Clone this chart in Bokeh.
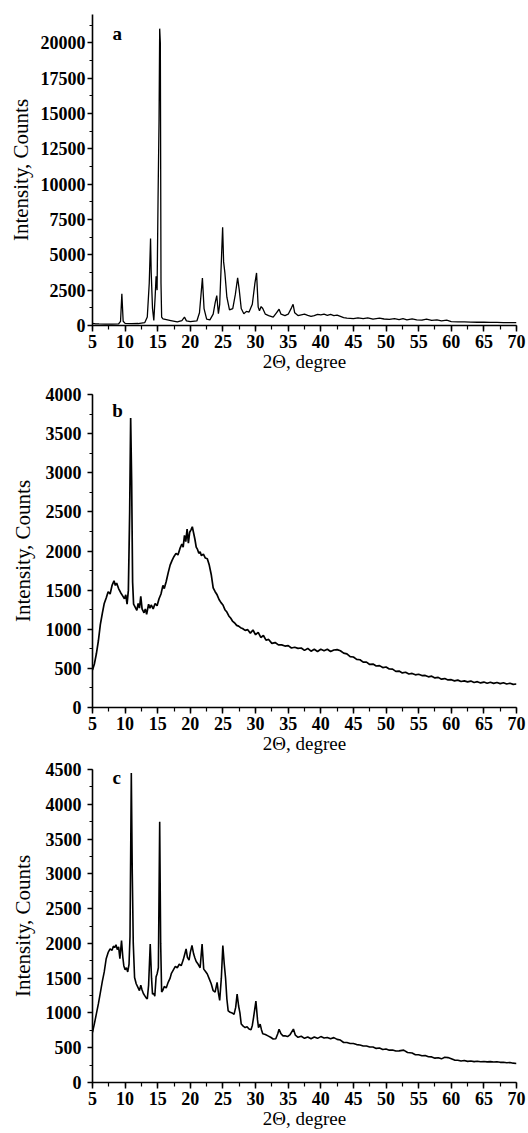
from bokeh.plotting import figure
from bokeh.layouts import column
from bokeh.models import Range1d, Label, SingleIntervalTicker
from bokeh.embed import file_html
from bokeh.resources import INLINE

# ---------------- data ----------------
x_a = [5.0, 5.5, 6.0, 7.0, 8.0, 9.0, 9.3, 9.5, 9.7, 10.0, 11.0, 12.0, 13.0, 13.4, 13.7, 13.9, 14.0,
       14.2, 14.4, 14.6, 14.75, 14.9, 15.05, 15.2, 15.3, 15.4, 15.5, 15.6, 15.8, 16.5, 17.0, 18.0,
       18.7, 19.1, 19.4, 20.0, 21.0, 21.4, 21.85, 22.1, 22.5, 23.0, 23.5, 23.8, 24.05, 24.3, 24.5,
       24.75, 24.95, 25.1, 25.3, 25.6, 26.0, 26.5, 26.9, 27.25, 27.5, 27.8, 28.2, 28.6, 29.0, 29.5,
       29.9, 30.15, 30.4, 30.6, 30.85, 31.1, 31.5, 32.0, 32.7, 33.2, 33.6, 33.9, 34.5, 35.0, 35.5,
       35.75, 36.0, 36.5, 37.0, 37.5, 38.0, 38.5, 39.0, 39.5, 40.0, 40.5, 41.0, 41.5, 42.0, 42.5,
       43.0, 43.5, 44.0, 45.0, 45.7, 46.5, 47.2, 48.0, 49.0, 49.7, 50.5, 51.3, 52.0, 52.6, 53.2,
       54.0, 54.7, 55.5, 56.2, 57.0, 57.8, 58.5, 59.3, 60.0, 61.0, 62.0, 63.0, 64.0, 65.0, 66.0,
       67.0, 68.0, 69.0, 70.0]
y_a = [150, 120, 110, 100, 100, 110, 300, 2250, 300, 150, 130, 140, 200, 600, 3000, 6150, 3750,
       1200, 350, 2000, 3480, 2500, 9000, 14500, 21000, 20000, 3000, 600, 470, 400, 350, 250,
       350, 590, 330, 270, 320, 900, 3350, 1200, 450, 400, 800, 1600, 2120, 830, 1500,
       4500, 6950, 4500, 3700, 2000, 1100, 1200, 2200, 3380, 2500, 1200, 830, 1000, 950, 1500,
       3000, 3720, 1300, 1050, 1340, 1200, 800, 700, 590, 900, 1150, 800, 700, 800, 1250,
       1500, 900, 700, 750, 800, 720, 650, 700, 780, 750, 800, 720, 780, 700, 740,
       650, 560, 520, 480, 540, 480, 540, 450, 520, 460, 430, 480, 420, 480, 400,
       470, 400, 380, 450, 360, 400, 330, 380, 280, 260, 250, 240, 230, 230, 220,
       220, 210, 210, 200]

x_b = [5.0, 5.3, 5.6, 5.9, 6.2, 6.5, 6.8, 7.1, 7.4, 7.7, 8.0, 8.3, 8.5, 8.7, 9.0, 9.3, 9.6, 9.9,
       10.1, 10.3, 10.5, 10.7, 10.85, 11.0, 11.15, 11.3, 11.5, 11.8, 12.0, 12.2, 12.4, 12.6, 12.9,
       13.1, 13.3, 13.6, 13.8, 14.0, 14.3, 14.6, 14.9, 15.2, 15.5, 15.8, 16.0, 16.3, 16.6, 16.9,
       17.2, 17.5, 17.8, 18.1, 18.4, 18.7, 18.9, 19.1, 19.3, 19.5, 19.7, 19.9, 20.1, 20.3, 20.5,
       20.7, 20.9, 21.1, 21.3, 21.5, 21.7, 22.0, 22.3, 22.6, 22.9, 23.2, 23.5, 23.8, 24.1, 24.4,
       24.7, 25.0, 25.3, 25.6, 25.9, 26.2, 26.5, 26.8, 27.1, 27.4, 27.7, 28.0, 28.4, 28.8, 29.2,
       29.6, 30.0, 30.4, 30.8, 31.2, 31.6, 32.0, 32.5, 33.0, 33.5, 34.0, 34.5, 35.0, 35.5, 36.0,
       36.5, 37.0, 37.5, 38.0, 38.5, 39.0, 39.5, 40.0, 40.5, 41.0, 41.5, 42.0, 42.5, 43.0, 43.5,
       44.0, 44.5, 45.0, 45.5, 46.0, 46.5, 47.0, 47.5, 48.0, 48.5, 49.0, 49.5, 50.0, 50.5, 51.0,
       51.5, 52.0, 52.5, 53.0, 53.5, 54.0, 54.5, 55.0, 55.5, 56.0, 56.5, 57.0, 57.5, 58.0, 58.5,
       59.0, 59.5, 60.0, 60.5, 61.0, 61.5, 62.0, 62.5, 63.0, 63.5, 64.0, 64.5, 65.0, 65.5, 66.0,
       66.5, 67.0, 67.5, 68.0, 68.5, 69.0, 69.5, 70.0]
y_b = [480, 560, 690, 850, 1060, 1200, 1330, 1400, 1480, 1450, 1560, 1620, 1560, 1590, 1520, 1470, 1430, 1390,
       1440, 1320, 1500, 2500, 3700, 2900, 1600, 1320, 1290, 1240, 1330, 1270, 1420, 1260, 1210,
       1260, 1190, 1320, 1270, 1310, 1260, 1330, 1300, 1390, 1450, 1560, 1520, 1610, 1720, 1820,
       1880, 1930, 1970, 1950, 2030, 2090, 2050, 2200, 2120, 2280, 2100, 2240, 2270, 2310, 2230,
       2150, 2050, 2020, 1970, 1990, 1940, 1960, 1910, 1900, 1820, 1700, 1530, 1480, 1440, 1380,
       1340, 1310, 1250, 1220, 1170, 1140, 1100, 1080, 1050, 1040, 1020,
       1010, 985, 995, 950, 990, 930, 960, 895, 920, 860,
       870, 820, 830, 800, 800, 785, 790, 760, 770, 755,
       760, 730, 755, 720, 745, 715, 745, 725, 745, 715,
       735, 740, 725, 695, 685, 650, 645, 615, 610, 580,
       580, 550, 555, 530, 535, 510, 518, 492, 490, 462,
       465, 442, 450, 428, 435, 418, 425, 408, 410, 392,
       400, 378, 385, 362, 370, 352, 355, 340, 350, 332,
       340, 328, 338, 320, 330, 314, 325, 310, 322, 308,
       320, 305, 316, 300, 310, 296, 300]

x_c = [5.0, 5.3, 5.6, 5.9, 6.2, 6.5, 6.8, 7.1, 7.4, 7.7, 8.0, 8.2, 8.4, 8.6, 8.8, 9.0, 9.2, 9.45,
       9.65, 9.8, 10.0, 10.2, 10.4, 10.6, 10.75, 10.95, 11.1, 11.25, 11.45, 11.7, 12.0, 12.2, 12.4,
       12.6, 12.8, 13.0, 13.2, 13.4, 13.6, 13.85, 14.05, 14.2, 14.4, 14.55, 14.75, 14.9, 15.1, 15.3,
       15.45, 15.6, 15.8, 16.0, 16.3, 16.6, 16.9, 17.1, 17.4, 17.7, 18.0, 18.3, 18.6, 18.9, 19.1,
       19.35, 19.55, 19.8, 20.0, 20.25, 20.5, 20.7, 20.9, 21.2, 21.5, 21.8, 22.05, 22.3, 22.6, 22.9,
       23.2, 23.5, 23.8, 24.1, 24.3, 24.5, 24.75, 24.98, 25.2, 25.4, 25.6, 25.8, 26.1, 26.4, 26.7,
       26.95, 27.17, 27.4, 27.6, 27.8, 28.1, 28.4, 28.7, 29.0, 29.3, 29.5, 29.7, 30.05, 30.3, 30.45,
       30.7, 30.9, 31.1, 31.5, 31.9, 32.3, 32.7, 33.1, 33.4, 33.6, 33.9, 34.2, 34.5, 34.9, 35.3,
       35.8, 36.1, 36.5, 37.0, 37.5, 38.0, 38.5, 39.0, 39.5, 40.0, 40.5, 41.0, 41.5, 42.0, 42.5,
       43.0, 43.5, 44.0, 44.5, 45.0, 45.5, 46.0, 46.5, 47.0, 47.5, 48.0, 48.5, 49.0, 49.5, 50.0,
       50.5, 51.0, 51.5, 52.0, 52.7, 53.3, 54.0, 54.5, 55.0, 55.5, 56.0, 56.5, 57.0, 57.5, 58.0,
       58.5, 59.0, 59.5, 60.0, 60.5, 61.0, 61.5, 62.0, 62.5, 63.0, 63.5, 64.0, 64.5, 65.0, 65.5,
       66.0, 66.5, 67.0, 67.5, 68.0, 68.5, 69.0, 69.5, 70.0]
y_c = [720, 850, 990, 1130, 1290, 1450, 1590, 1780, 1870, 1920, 1900, 1960, 1940, 1980, 1910, 1950, 1780, 2040,
       1800, 1680, 1620, 1650, 1590, 1700, 2100, 4450, 3000, 2000, 1510, 1420, 1360, 1320, 1400,
       1330, 1280, 1250, 1220, 1200, 1400, 1990, 1500, 1270, 1280, 1240, 1520, 1560, 1650, 3750,
       2000, 1300, 1330, 1380, 1360, 1440, 1500, 1570, 1620, 1670, 1650, 1700, 1680, 1760, 1830,
       1920, 1800, 1760, 1870, 1970, 1850, 1790, 1740, 1700, 1650, 1990, 1630, 1600, 1560, 1490,
       1420, 1320, 1300, 1440, 1290, 1180, 1500, 1970, 1700, 1500, 1200, 1030, 1010, 1000, 980,
       1080, 1270, 1100, 1000, 840, 810, 790, 800, 770, 760, 820, 940, 1170, 900, 790,
       840, 760, 700, 690, 670, 650, 625, 630, 700, 765, 700, 670, 672, 660, 690,
       768, 680, 650, 665, 635, 655, 630, 655, 635, 660, 640, 648, 630, 645, 620,
       610, 575, 575, 560, 560, 545, 540, 525, 525, 510, 510, 490, 495, 475, 482,
       465, 468, 452, 455, 465, 432, 425, 400, 400, 385, 388, 370, 368, 350, 355,
       340, 362, 358, 342, 322, 320, 310, 316, 304, 308, 300, 305, 298, 303, 296,
       300, 294, 298, 290, 292, 285, 288, 278, 274]

x_ticks = [5, 10, 15, 20, 25, 30, 35, 40, 45, 50, 55, 60, 65, 70]
panel_letters = ["a", "b", "c"]
y_max = [22000, 4000, 4500]
y_step = [2500, 500, 500]

SERIF = "Liberation Serif"


def make_panel(xs, ys, letter, ymax, ystep, height, left, top, bottom, letter_xy,
               ytick_standoff, ylab_standoff, lw):
    p = figure(width=528, height=height, output_backend="svg", toolbar_location=None,
               x_range=Range1d(5, 70), y_range=Range1d(0, ymax),
               min_border_left=left, min_border_right=12,
               min_border_top=top, min_border_bottom=bottom)
    p.outline_line_color = None
    p.grid.visible = False
    p.background_fill_color = "white"
    p.border_fill_color = "white"

    p.line(xs, ys, line_color="black", line_width=lw)

    p.xaxis.ticker = SingleIntervalTicker(interval=5, num_minor_ticks=2)
    p.yaxis.ticker = SingleIntervalTicker(interval=ystep, num_minor_ticks=2)
    for ax in (p.xaxis, p.yaxis):
        ax.axis_line_color = "black"
        ax.axis_line_width = 1.6
        ax.major_tick_line_color = "black"
        ax.minor_tick_line_color = "black"
        ax.major_tick_line_width = 1.5
        ax.minor_tick_line_width = 1.2
        ax.major_tick_in = 0
        ax.minor_tick_in = 0
        ax.major_label_text_font = SERIF
        ax.major_label_text_font_style = "bold"
        ax.major_label_text_font_size = "18px"
        ax.major_label_text_color = "black"
        ax.axis_label_text_font = SERIF
        ax.axis_label_text_font_style = "normal"
        ax.axis_label_text_color = "black"
    p.xaxis.major_tick_out = 6
    p.xaxis.minor_tick_out = 4
    p.yaxis.major_tick_out = 5
    p.yaxis.minor_tick_out = 3
    p.xaxis.major_label_standoff = 3
    p.yaxis.major_label_standoff = ytick_standoff
    p.xaxis.axis_label = "2\u0398, degree"
    p.xaxis.axis_label_text_font_size = "19px"
    p.xaxis.axis_label_standoff = 0
    p.yaxis.axis_label = "Intensity, Counts"
    p.yaxis.axis_label_text_font_size = "21px"
    p.yaxis.axis_label_standoff = ylab_standoff

    p.add_layout(Label(x=letter_xy[0], y=letter_xy[1], text=letter,
                       text_font=SERIF, text_font_style="bold", text_font_size="19px",
                       text_color="black", text_align="center", text_baseline="middle"))
    return p


pa = make_panel(x_a, y_a, panel_letters[0], y_max[0], y_step[0], 380, 90, 14, 55, (8.8, 20640), 2, 5, 1.3)
pb = make_panel(x_b, y_b, panel_letters[1], y_max[1], y_step[1], 380, 92, 14, 53, (8.85, 3795), 6, 8, 1.7)
pc = make_panel(x_c, y_c, panel_letters[2], y_max[2], y_step[2], 373, 91, 9, 51, (8.7, 4385), 6, 8, 1.6)

layout = column(pa, pb, pc, spacing=0)
open("out.html", "w").write(file_html(layout, INLINE))
